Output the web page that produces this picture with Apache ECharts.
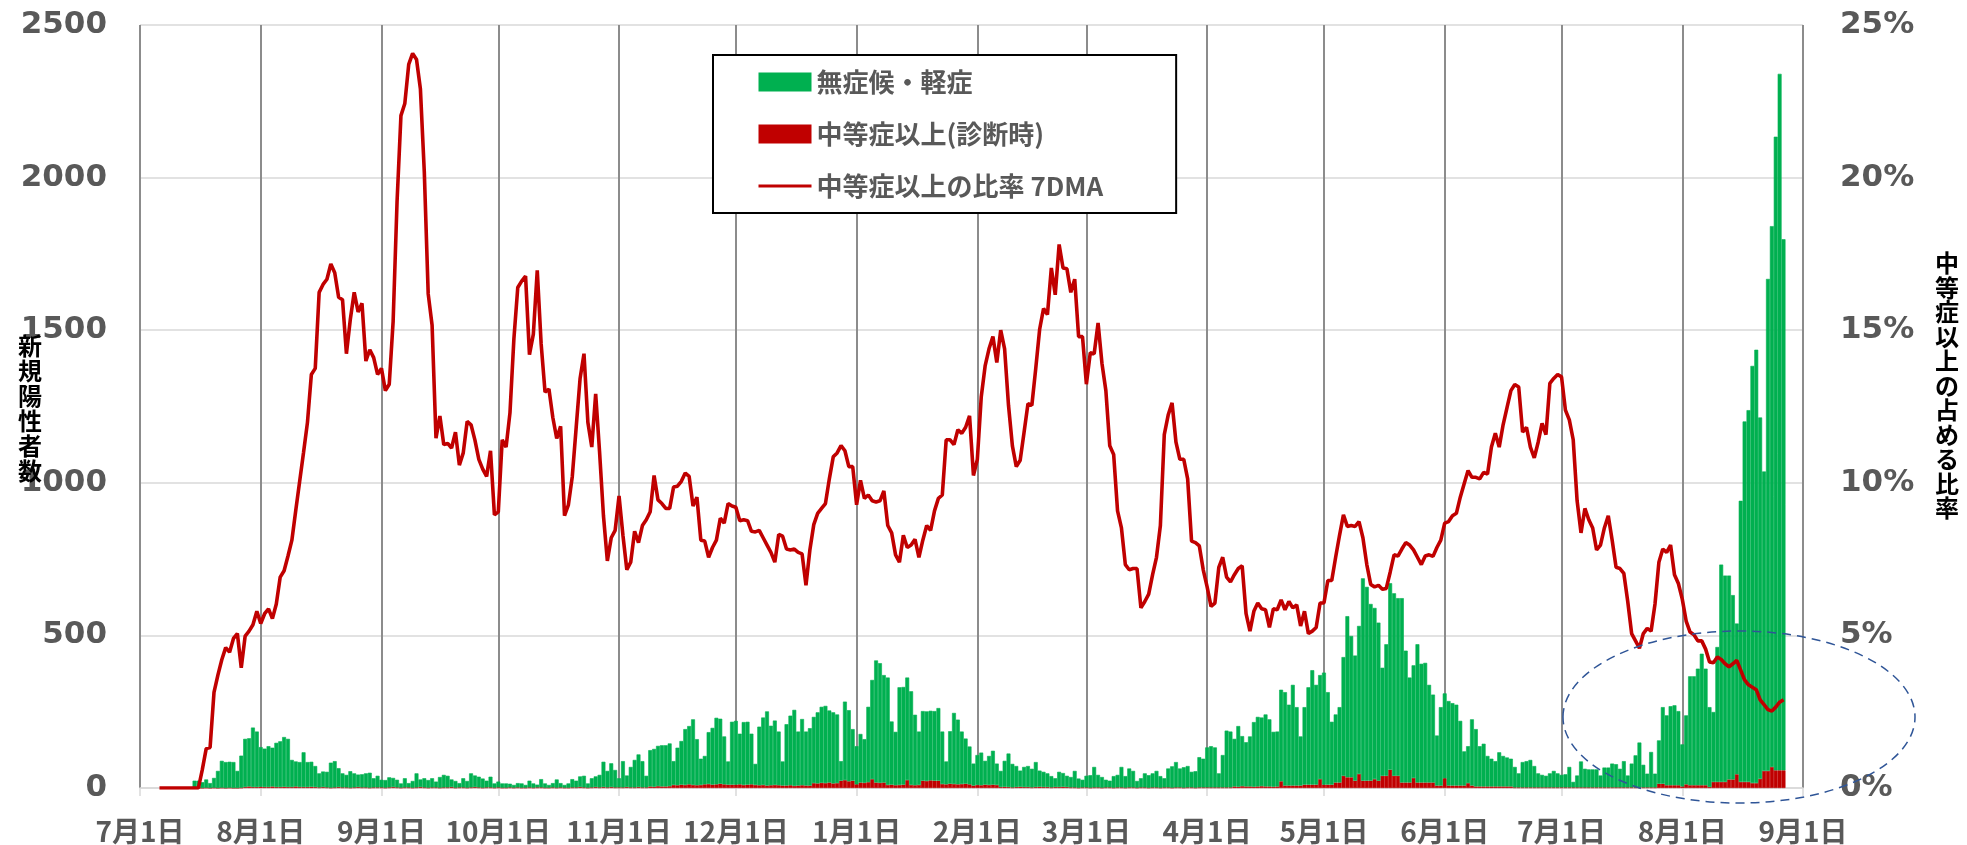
<!DOCTYPE html>
<html>
<head>
<meta charset="utf-8">
<script src="https://cdn.jsdelivr.net/npm/echarts@6/dist/echarts.min.js"></script>
<style>
  html, body { margin: 0; padding: 0; background: #fff; }
  #main { width: 1967px; height: 845px; }
</style>
</head>
<body>
<div id="main"></div>
<script>
// 日付は2020/7/1から2021/9/1まで（軸の範囲）
var startDate = [2020, 7, 1];
var dayCount = 428;

// 無症候・軽症（日別） 2020/7/1〜2021/8/27
var mildCases = [
  // 2020年7月
  null,null,null,null,null,null,null,null,null,null,null,null,null,null,24,24,19,27,16,32,56,88,85,85,85,56,105,158,158,195,182,
  // 8月
  130,126,134,127,145,150,163,158,89,82,82,114,82,82,69,46,51,51,82,86,62,46,41,54,46,41,43,46,49,30,38,
  // 9月
  25,25,33,30,25,14,30,14,22,46,25,30,25,30,19,35,41,38,25,22,14,30,22,46,38,35,30,22,35,14,
  // 10月
  19,14,14,12,9,14,14,9,22,14,9,27,14,9,14,27,14,9,14,27,22,35,38,14,30,35,41,83,54,78,57,
  // 11月
  30,86,38,67,90,107,86,38,119,124,132,135,135,140,78,123,143,183,191,215,151,86,93,170,186,218,213,157,76,206,
  // 12月
  209,166,206,206,166,69,192,221,243,195,211,176,79,201,228,249,177,217,177,188,217,233,249,253,236,233,225,64,257,233,169,
  // 2021年1月
  125,159,143,247,325,400,392,352,352,207,175,320,320,336,307,231,175,228,228,228,228,238,172,75,172,233,212,172,148,124,72,
  // 2月
  98,107,78,95,111,70,53,85,110,77,69,53,66,69,61,82,53,50,45,37,29,50,45,37,34,54,30,25,
  // 3月
  38,41,67,41,35,25,22,38,41,67,38,62,54,22,30,46,41,46,54,38,30,62,70,83,62,67,70,51,54,99,94,
  // 4月
  131,135,131,46,106,186,183,156,199,164,145,164,212,228,225,236,220,180,180,300,306,265,330,257,161,254,319,375,327,341,
  // 5月
  367,303,206,223,247,389,528,463,410,485,663,635,579,561,518,354,431,611,598,582,604,432,344,369,453,389,392,320,288,164,257,
  // 6月
  278,277,270,265,212,112,121,217,188,132,140,100,91,83,112,100,95,91,67,46,83,86,90,70,46,41,38,46,54,46,
  // 7月
  41,43,67,18,39,85,61,59,59,59,39,65,65,78,76,61,86,39,78,105,147,74,45,116,45,142,251,229,259,262,243,
  // 8月
  138,226,357,357,382,431,382,262,229,442,712,676,668,604,494,921,1181,1218,1367,1420,1184,981,1612,1772,2076,2282,1740
];

// 中等症以上（診断時）
var severeCases = [
  // 2020年7月
  null,null,null,null,null,null,null,null,null,null,null,null,null,null,0,0,0,1,0,1,0,1,0,1,0,0,1,3,5,3,3,
  // 8月
  4,3,3,5,3,3,4,3,3,5,3,3,3,4,3,2,3,2,1,2,3,2,2,1,2,3,2,2,1,2,2,
  // 9月
  2,1,2,3,2,1,2,2,1,2,3,2,1,2,2,1,2,2,3,1,2,2,1,2,3,2,1,2,2,1,
  // 10月
  2,1,1,2,1,2,1,1,2,1,2,2,1,1,2,1,2,1,1,2,2,3,2,1,2,3,2,3,2,3,2,
  // 11月
  2,2,3,2,2,3,2,2,5,4,6,5,5,6,10,9,11,10,12,10,9,10,12,13,11,12,14,12,11,11,
  // 12月
  11,12,10,11,12,10,9,10,8,9,10,9,8,8,9,7,8,9,8,8,16,15,17,16,18,15,16,24,26,22,24,
  // 2021年1月
  12,18,17,19,29,18,17,18,10,11,9,10,11,26,10,9,10,24,23,25,24,24,13,12,14,13,12,13,14,12,8,
  // 2月
  10,9,11,10,11,10,3,4,3,2,3,4,3,3,2,3,4,3,3,2,3,3,4,3,2,2,1,2,
  // 3月
  2,1,2,2,1,2,2,1,2,2,1,2,2,1,2,2,1,2,2,1,2,2,1,2,2,1,2,2,1,2,2,
  // 4月
  2,2,2,2,2,2,2,5,4,6,5,5,4,5,6,5,5,4,5,22,8,8,8,8,8,11,11,11,11,29,
  // 5月
  11,11,11,18,18,40,35,35,24,46,24,24,24,29,24,40,40,60,40,40,18,18,18,33,18,18,18,18,18,8,8,
  // 6月
  32,8,8,8,8,8,16,8,5,5,5,5,5,5,5,5,5,5,2,2,2,2,2,2,2,2,2,2,2,2,
  // 7月
  2,2,2,2,2,2,2,2,2,2,2,2,2,2,2,2,2,2,2,2,2,2,2,2,2,14,14,9,9,9,9,
  // 8月
  5,12,9,9,9,9,9,3,20,20,20,20,28,28,45,20,20,20,16,16,30,56,56,69,58,58,58
];

// 中等症以上の比率 7DMA（%）
var severeRatio = [
  // 2020年7月
  null,null,null,null,null,0,0,0,0,0,0,0,0,0,0,0,0.6,1.29,1.33,3.13,3.7,4.2,4.6,4.45,4.9,5.06,3.94,4.98,5.14,5.35,5.79,
  // 8月
  5.39,5.71,5.87,5.55,6.03,6.91,7.12,7.6,8.12,9.1,10.05,11.0,11.98,13.55,13.75,16.24,16.5,16.67,17.17,16.88,16.08,16.0,14.23,15.35,16.24,15.6,15.88,13.99,14.36,14.1,13.55,
  // 9月
  13.75,13.02,13.23,15.3,19.2,22.03,22.43,23.71,24.07,23.87,22.9,20.18,16.19,15.16,11.46,12.19,11.25,11.29,11.14,11.66,10.58,10.98,12.01,11.9,11.4,10.77,10.45,10.21,11.05,8.95,
  // 10月
  9.05,11.41,11.17,12.3,14.71,16.4,16.61,16.77,14.2,14.87,16.96,14.55,12.97,13.07,12.14,11.45,11.85,8.92,9.28,10.21,11.82,13.42,14.23,11.98,11.17,12.91,11.01,8.92,7.44,8.2,8.44,
  // 11月
  9.57,8.28,7.15,7.4,8.41,8.04,8.6,8.79,9.05,10.24,9.44,9.32,9.16,9.16,9.86,9.89,10.05,10.32,10.21,9.24,9.53,8.12,8.09,7.56,7.88,8.12,8.84,8.68,9.32,9.24,
  // 12月
  9.2,8.76,8.79,8.76,8.41,8.39,8.44,8.2,7.96,7.72,7.4,8.31,8.25,7.83,7.8,7.83,7.72,7.67,6.64,7.8,8.63,9.0,9.16,9.32,10.13,10.85,10.98,11.22,11.05,10.53,10.53,
  // 2021年1月
  9.28,10.08,9.49,9.6,9.41,9.37,9.41,9.73,8.6,8.36,7.64,7.4,8.28,7.88,7.96,8.15,7.56,8.12,8.6,8.44,9.08,9.49,9.6,11.41,11.41,11.25,11.74,11.62,11.82,12.19,10.24,
  // 2月
  10.77,12.81,13.83,14.39,14.79,13.94,15.0,14.39,12.54,11.21,10.53,10.74,11.66,12.59,12.54,13.75,15.03,15.71,15.51,17.04,16.16,17.81,17.04,17.01,16.24,16.67,14.79,14.79,
  // 3月
  13.23,14.26,14.23,15.24,13.91,13.02,11.21,10.93,9.08,8.52,7.32,7.15,7.19,7.19,5.9,6.11,6.35,6.99,7.56,8.6,11.58,12.22,12.62,11.33,10.77,10.77,10.13,8.09,8.04,7.93,7.15,
  // 4月
  6.59,5.95,6.06,7.23,7.56,6.91,6.75,6.99,7.19,7.28,5.71,5.14,5.79,6.06,5.87,5.84,5.26,5.87,5.84,6.16,5.84,6.11,5.9,6.0,5.31,5.79,5.06,5.14,5.26,6.06,
  // 5月
  6.06,6.8,6.8,7.56,8.28,8.95,8.57,8.6,8.57,8.73,8.2,7.32,6.67,6.59,6.64,6.51,6.54,7.07,7.64,7.6,7.83,8.04,7.96,7.8,7.56,7.32,7.6,7.64,7.59,7.88,8.12,
  // 6月
  8.68,8.73,8.92,9.0,9.53,9.97,10.4,10.18,10.18,10.13,10.34,10.29,11.17,11.62,11.17,11.9,12.46,13.02,13.22,13.14,11.66,11.82,11.17,10.82,11.33,11.95,11.58,13.26,13.42,13.55,
  // 7月
  13.47,12.38,12.06,11.41,9.41,8.36,9.16,8.79,8.52,7.8,7.96,8.52,8.92,8.12,7.23,7.19,7.03,6.11,5.06,4.82,4.58,5.06,5.23,5.14,6.03,7.4,7.83,7.72,7.96,6.99,6.7,
  // 8月
  6.19,5.47,5.11,5.02,4.82,4.82,4.55,4.13,4.1,4.29,4.21,4.07,3.97,4.07,4.18,3.86,3.54,3.38,3.3,3.22,2.89,2.73,2.57,2.52,2.65,2.81,2.89
];

var legendNames = ['無症候・軽症', '中等症以上(診断時)', '中等症以上の比率 7DMA'];
var leftAxisTicks = [0, 2500, 500];
var rightAxisTicks = [0, 25, 5];

// カテゴリ（日付）
var dates = [];
for (var i = 0; i < dayCount; i++) {
  var dt = new Date(startDate[0], startDate[1] - 1, startDate[2] + i);
  dates.push(dt.getFullYear() + '-' + (dt.getMonth() + 1) + '-' + dt.getDate());
}
function isMonthStart(index, value) {
  return value.split('-')[2] === '1';
}

var numFont = "'DejaVu Sans', 'Noto Sans CJK JP', sans-serif";
var jpFont = "'Noto Sans CJK JP', sans-serif";

var chart = echarts.init(document.getElementById('main'));
chart.setOption({
  animation: false,
  backgroundColor: '#fff',
  grid: { left: 140, right: 164, top: 25, bottom: 57 },
  legend: {
    orient: 'vertical',
    left: 713,
    top: 55,
    padding: [14, 73, 14, 44],
    borderColor: '#000',
    borderWidth: 2,
    backgroundColor: '#fff',
    itemWidth: 53,
    itemHeight: 19,
    itemGap: 26,
    selectedMode: false,
    textStyle: { color: '#595959', fontSize: 26, lineHeight: 26, fontWeight: 'bold', fontFamily: jpFont },
    data: [
      { name: legendNames[0], icon: 'rect', itemStyle: { borderWidth: 0 } },
      { name: legendNames[1], icon: 'rect', itemStyle: { borderWidth: 0 } },
      {
        name: legendNames[2],
        lineStyle: { color: '#c00000', width: 3 },
        itemStyle: { color: 'rgba(0,0,0,0)', borderColor: 'rgba(0,0,0,0)', borderWidth: 0 }
      }
    ]
  },
  xAxis: {
    type: 'category',
    data: dates,
    boundaryGap: false,
    axisLine: { lineStyle: { color: '#d9d9d9', width: 1.5 } },
    axisTick: { show: true, interval: isMonthStart, length: 8, lineStyle: { color: '#d9d9d9', width: 1.5 } },
    axisLabel: {
      interval: isMonthStart,
      margin: 29,
      color: '#595959',
      fontSize: 28,
      fontWeight: 'bold',
      fontFamily: jpFont,
      formatter: function (v) { return v.split('-')[1] + '月1日'; }
    },
    splitLine: { show: true, interval: isMonthStart, lineStyle: { color: '#8c8c8c', width: 2 } }
  },
  yAxis: [
    {
      type: 'value',
      min: leftAxisTicks[0], max: leftAxisTicks[1], interval: leftAxisTicks[2],
      axisLine: { show: false },
      axisTick: { show: false },
      axisLabel: {
        margin: 33, color: '#595959', fontSize: 31, fontWeight: 'bold', fontFamily: numFont,
        formatter: function (v) { return String(v); }
      },
      splitLine: { lineStyle: { color: '#d9d9d9', width: 1.5 } }
    },
    {
      type: 'value',
      min: rightAxisTicks[0], max: rightAxisTicks[1], interval: rightAxisTicks[2],
      axisLine: { show: false },
      axisTick: { show: false },
      axisLabel: { margin: 37, color: '#595959', fontSize: 31, fontWeight: 'bold', fontFamily: numFont, formatter: '{value}%' },
      splitLine: { show: false }
    }
  ],
  series: [
    {
      name: legendNames[1],
      type: 'bar',
      stack: 'cases',
      barCategoryGap: '0%',
      itemStyle: { color: '#c00000', borderColor: '#c00000', borderWidth: 0.6 },
      data: severeCases
    },
    {
      name: legendNames[0],
      type: 'bar',
      stack: 'cases',
      barCategoryGap: '0%',
      itemStyle: { color: '#00b050', borderColor: '#00b050', borderWidth: 0.6 },
      data: mildCases
    },
    {
      name: legendNames[2],
      type: 'line',
      yAxisIndex: 1,
      symbol: 'none',
      z: 5,
      itemStyle: { color: '#c00000' },
      lineStyle: { color: '#c00000', width: 3.6 },
      data: severeRatio
    }
  ],
  graphic: [
    {
      type: 'text',
      left: 18, top: 333, z: 50,
      style: { text: '新\n規\n陽\n性\n者\n数', font: 'bold 24px ' + jpFont, lineHeight: 25, fill: '#000', align: 'center' }
    },
    {
      type: 'text',
      left: 1935, top: 251, z: 50,
      style: { text: '中\n等\n症\n以\n上\nの\n占\nめ\nる\n比\n率', font: 'bold 24px ' + jpFont, lineHeight: 24.5, fill: '#000', align: 'center' }
    },
    {
      type: 'ellipse',
      z: 60,
      shape: { cx: 1739, cy: 717, rx: 176, ry: 86 },
      style: { fill: 'none', stroke: '#2f5597', lineWidth: 1.5, lineDash: [9, 6] }
    }
  ]
});
</script>
</body>
</html>
